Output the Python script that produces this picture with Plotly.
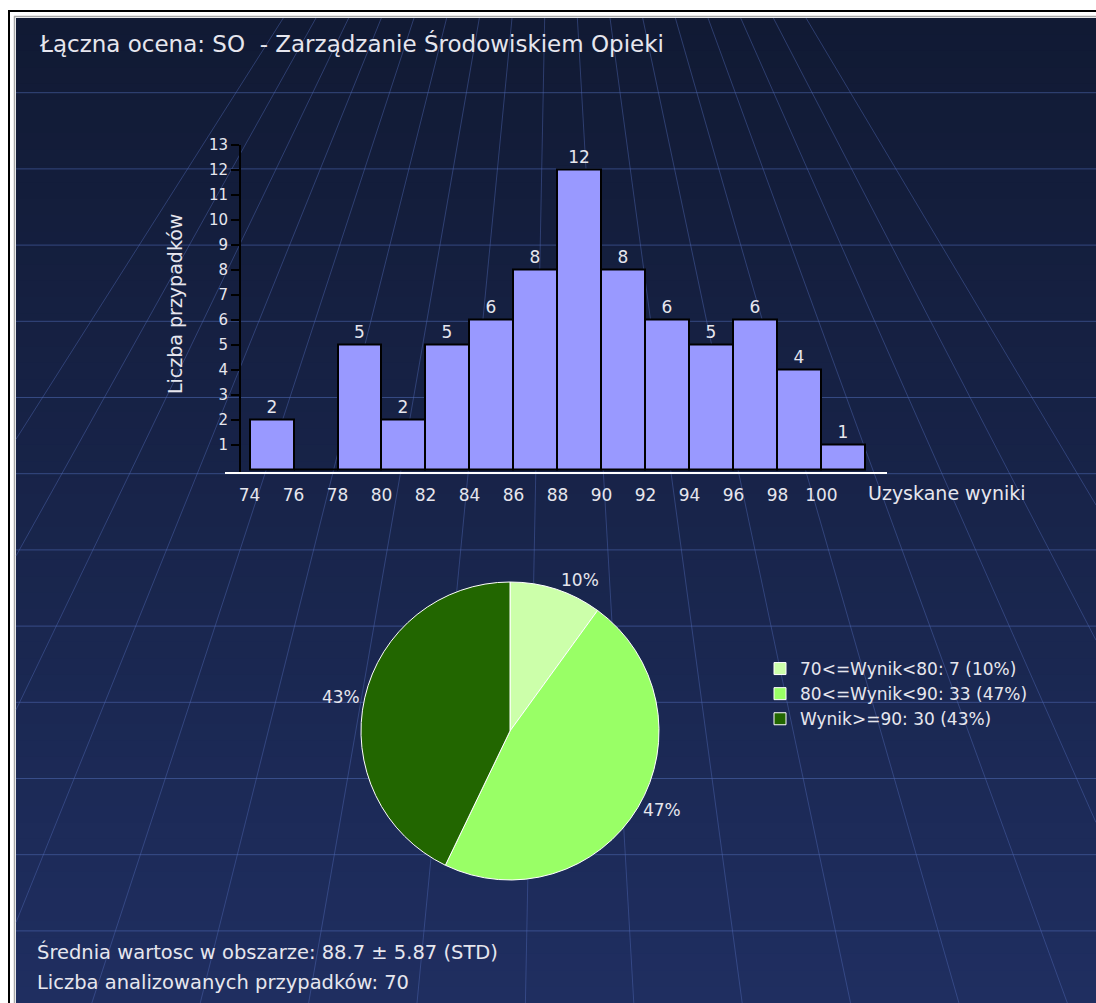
import plotly.graph_objects as go

# reference canvas size
W, H = 1096, 1003

# histogram: bins of width 2 starting at these values
bin_starts = [74, 76, 78, 80, 82, 84, 86, 88, 90, 92, 94, 96, 98, 100]
counts = [2, 0, 5, 2, 5, 6, 8, 12, 8, 6, 5, 6, 4, 1]
bin_width = 2
x_ticks = [74, 76, 78, 80, 82, 84, 86, 88, 90, 92, 94, 96, 98, 100]
y_ticks = [1, 2, 3, 4, 5, 6, 7, 8, 9, 10, 11, 12, 13]

# pie: score groups
pie_labels = ['70<=Wynik<80: 7 (10%)', '80<=Wynik<90: 33 (47%)', 'Wynik>=90: 30 (43%)']
pie_values = [7, 33, 30]
pie_colors = ['#ccffaa', '#99ff66', '#226600']

title_text = 'Łączna ocena: SO  - Zarządzanie Środowiskiem Opieki'
y_title = 'Liczba przypadków'
x_title = 'Uzyskane wyniki'
footer_lines = ['Średnia wartosc w obszarze: 88.7 ± 5.87 (STD)',
                'Liczba analizowanych przypadków: 70']

FONT = 'Tahoma, DejaVu Sans, sans-serif'
TXT = '#e6e6ee'


def fx(p):
    return p / W


def fy(p):
    return 1 - p / H


# background panel: vertical gradient + perspective floor grid
shapes = []
top, bottom, left, right = 18, H, 16, W
c_top, c_bot = (17, 26, 52), (31, 46, 96)
n_bands = 60
for i in range(n_bands):
    t = i / (n_bands - 1)
    c = tuple(round(a + (b - a) * t) for a, b in zip(c_top, c_bot))
    y0 = top + (bottom - top) * i / n_bands
    y1 = top + (bottom - top) * (i + 1) / n_bands + 1
    shapes.append(dict(type='rect', xref='paper', yref='paper', layer='below',
                       x0=fx(left), x1=fx(right), y0=fy(y0), y1=fy(min(y1, bottom)),
                       fillcolor='rgb(%d,%d,%d)' % c, line=dict(width=0)))

grid_col = 'rgba(80,105,180,0.55)'
y_line = 92.7
while y_line < bottom:
    shapes.append(dict(type='line', xref='paper', yref='paper', layer='below',
                       x0=fx(left), x1=fx(right), y0=fy(y_line), y1=fy(y_line),
                       line=dict(color=grid_col, width=1)))
    y_line += 76.2

vpx, vpy = 553, -407
for k in range(-4, 13):
    xt = 414 + 32.67 * k
    s = (xt - vpx) / (top - vpy)
    ya, yb = top, bottom
    if s < 0:
        yb = min(yb, vpy + (left - vpx) / s)
    elif s > 0:
        yb = min(yb, vpy + (right - vpx) / s)
    if yb <= ya:
        continue
    shapes.append(dict(type='line', xref='paper', yref='paper', layer='below',
                       x0=fx(vpx + s * (ya - vpy)), y0=fy(ya),
                       x1=fx(vpx + s * (yb - vpy)), y1=fy(yb),
                       line=dict(color='rgba(80,105,180,0.45)', width=1)))

# frame lines
shapes += [
    dict(type='line', xref='paper', yref='paper', x0=fx(9), x1=fx(9), y0=fy(10), y1=fy(H),
         line=dict(color='black', width=2), layer='below'),
    dict(type='line', xref='paper', yref='paper', x0=fx(8), x1=fx(W), y0=fy(11), y1=fy(11),
         line=dict(color='black', width=2), layer='below'),
    dict(type='line', xref='paper', yref='paper', x0=fx(14.5), x1=fx(14.5), y0=fy(16), y1=fy(H),
         line=dict(color='#a8a8a8', width=1.5), layer='below'),
    dict(type='line', xref='paper', yref='paper', x0=fx(14), x1=fx(W), y0=fy(16.5), y1=fy(16.5),
         line=dict(color='#a8a8a8', width=1.5), layer='below'),
]

fig = go.Figure()

fig.add_trace(go.Bar(
    x=[s + bin_width / 2 for s in bin_starts], y=counts, width=bin_width,
    marker=dict(color='#9999ff', line=dict(color='black', width=2)),
    text=[str(c) if c else '' for c in counts], textposition='outside',
    textfont=dict(size=17, color=TXT, family=FONT), cliponaxis=False,
    showlegend=False, hoverinfo='x+y'))

fig.add_trace(go.Pie(
    labels=pie_labels, values=pie_values, sort=False, direction='clockwise', rotation=0,
    marker=dict(colors=pie_colors, line=dict(color='white', width=1)),
    texttemplate='%{percent:.0%}', textposition='outside',
    textfont=dict(size=17, color=TXT, family=FONT),
    domain=dict(x=[fx(510 - 190), fx(510 + 190)], y=[fy(731 + 149), fy(731 - 149)])))

annotations = [
    dict(text=title_text, x=fx(37), y=fy(43), xanchor='left', yanchor='middle',
         font=dict(size=23, color=TXT, family=FONT)),
    dict(text=y_title, x=fx(175), y=fy(304), textangle=-90, xanchor='center', yanchor='middle',
         font=dict(size=19, color=TXT, family=FONT)),
    dict(text=x_title, x=fx(866), y=fy(493), xanchor='left', yanchor='middle',
         font=dict(size=19, color=TXT, family=FONT)),
]
for i, line in enumerate(footer_lines):
    annotations.append(dict(text=line, x=fx(35), y=fy(952 + 30 * i), xanchor='left',
                            yanchor='middle', font=dict(size=19.5, color=TXT, family=FONT)))
for a in annotations:
    a.update(xref='paper', yref='paper', showarrow=False)

fig.update_layout(
    width=W, height=H, margin=dict(l=0, r=0, t=0, b=0, autoexpand=False),
    paper_bgcolor='white', plot_bgcolor='rgba(0,0,0,0)',
    font=dict(family=FONT, color=TXT),
    shapes=shapes, annotations=annotations,
    bargap=0,
    xaxis=dict(domain=[fx(225), fx(887)], range=[72.886, 102.98], anchor='y',
               tickvals=x_ticks, ticks='', showline=True, linecolor='white', linewidth=2,
               showgrid=False, zeroline=False, ticklabelstandoff=7,
               tickfont=dict(size=17, color=TXT, family=FONT), fixedrange=True),
    yaxis=dict(domain=[fy(472), fy(144.5)], range=[-0.1, 13], anchor='free', position=fx(240),
               tickvals=y_ticks, ticks='outside', ticklen=8, tickwidth=2, tickcolor='black',
               showline=True, linecolor='black', linewidth=2, showgrid=False, zeroline=False,
               tickfont=dict(size=15, color=TXT, family=FONT), fixedrange=True),
    legend=dict(x=fx(760), y=fy(651), xanchor='left', yanchor='top',
                bgcolor='rgba(0,0,0,0)', font=dict(size=17, color=TXT, family=FONT),
                itemclick=False, itemdoubleclick=False),
)

page_css = ("document.documentElement.style.margin='0';"
            "document.documentElement.style.padding='0';"
            "document.body.style.margin='0';document.body.style.padding='0';"
            "document.body.style.overflow='hidden';")
fig.write_html('out.html', config={'displayModeBar': False}, post_script=page_css)
